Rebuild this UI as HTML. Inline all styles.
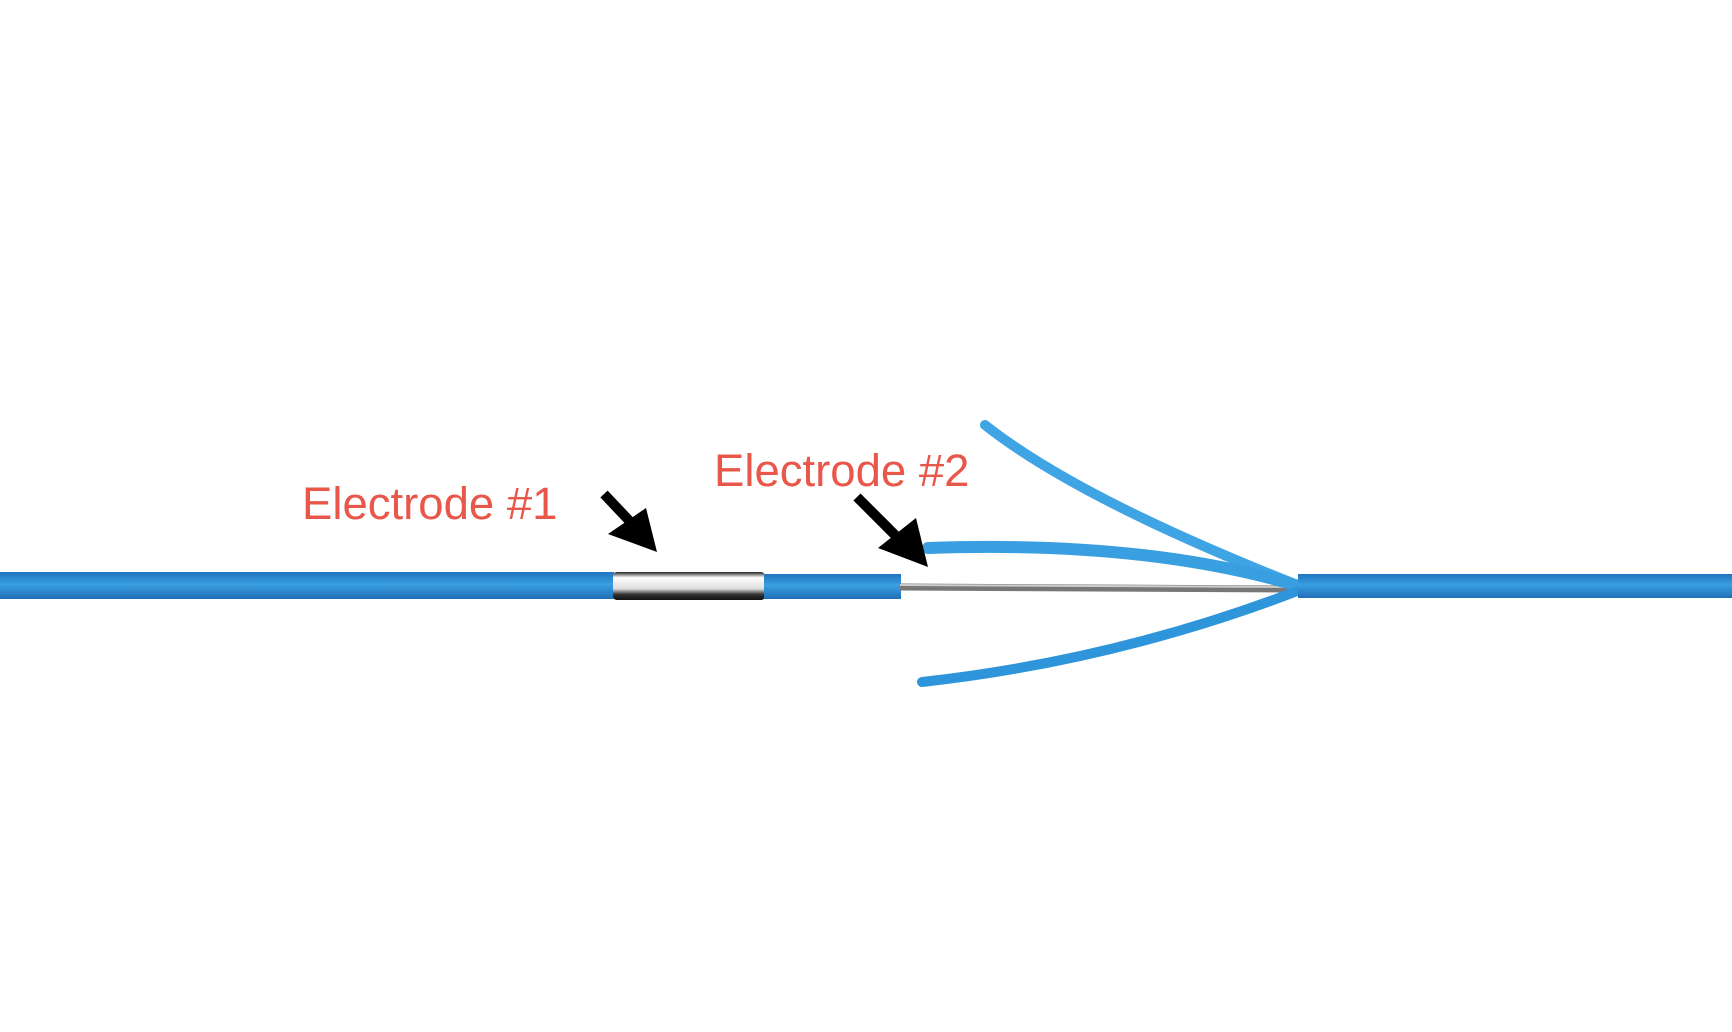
<!DOCTYPE html>
<html><head><meta charset="utf-8"><style>
html,body{margin:0;padding:0;background:#fff;}
svg{display:block}
text{font-family:"Liberation Sans",sans-serif;}
</style></head><body>
<svg width="1732" height="1032" viewBox="0 0 1732 1032">
<defs>
<linearGradient id="blue" x1="0" y1="0" x2="0" y2="1">
<stop offset="0" stop-color="#1f74c0"/><stop offset="0.45" stop-color="#3a9fe0"/><stop offset="1" stop-color="#1f6fb8"/>
</linearGradient>
<linearGradient id="metal" x1="0" y1="0" x2="0" y2="1">
<stop offset="0" stop-color="#222"/><stop offset="0.2" stop-color="#fff"/><stop offset="0.6" stop-color="#ddd"/><stop offset="0.8" stop-color="#333"/><stop offset="1" stop-color="#111"/>
</linearGradient>
</defs>
<rect width="1732" height="1032" fill="#fff"/>
<rect x="0" y="572" width="614" height="27" fill="url(#blue)"/>
<rect x="613" y="572" width="152" height="28" rx="4" fill="url(#metal)"/>
<rect x="764" y="574" width="137" height="25" fill="url(#blue)"/>
<line x1="900" y1="587" x2="1300" y2="589" stroke="#777" stroke-width="7"/>
<line x1="900" y1="585" x2="1300" y2="587" stroke="#ccc" stroke-width="2"/>
<path d="M985 425 Q1080 500 1305 588" stroke="#3fa4e4" stroke-width="10" fill="none" stroke-linecap="round"/>
<path d="M928 548 Q1150 540 1305 588" stroke="#3a9fe0" stroke-width="12" fill="none" stroke-linecap="round"/>
<path d="M922 682 Q1120 660 1305 588" stroke="#2f95da" stroke-width="10" fill="none" stroke-linecap="round"/>
<rect x="1298" y="574" width="434" height="24" fill="url(#blue)"/>
<text x="302" y="519" font-size="45.5" fill="#e8574a">Electrode #1</text>
<text x="714" y="486" font-size="45.5" fill="#e8574a">Electrode #2</text>
<g>
<line x1="604" y1="494" x2="638" y2="530" stroke="#000" stroke-width="10"/>
<polygon points="657,552 608,534 646,508" fill="#000"/>
</g>
<g>
<line x1="857" y1="497" x2="903" y2="543" stroke="#000" stroke-width="10"/>
<polygon points="928,567 878,548 916,518" fill="#000"/>
</g>
</svg>
</body></html>
